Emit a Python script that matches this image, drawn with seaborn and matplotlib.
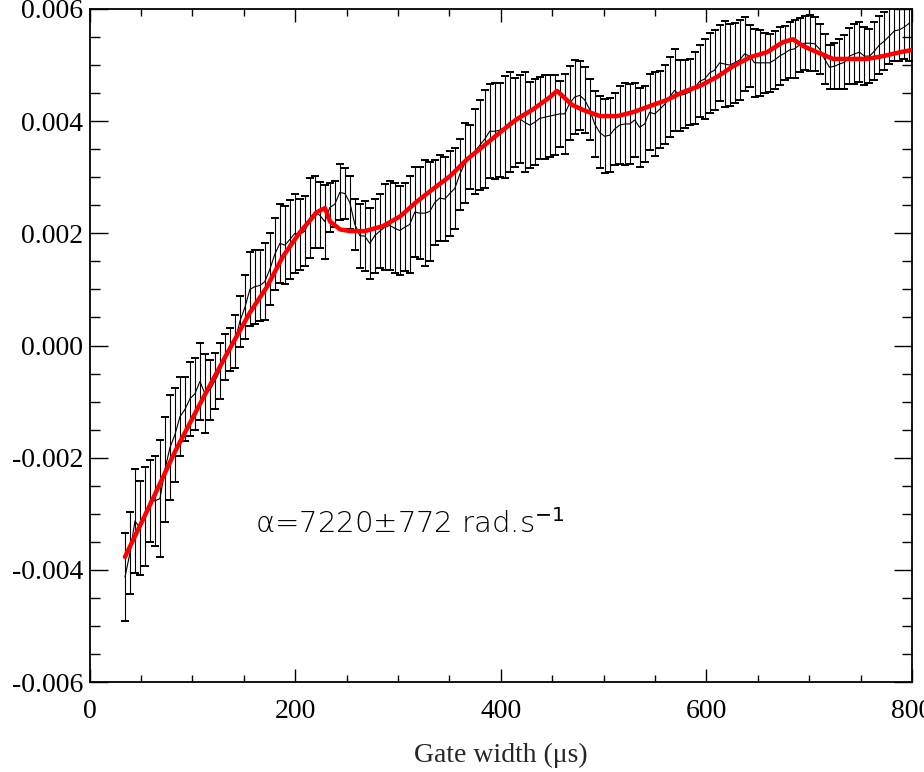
import numpy as np
import pandas as pd
import matplotlib
matplotlib.use("Agg")
import matplotlib.pyplot as plt
import seaborn as sns
from matplotlib.ticker import MultipleLocator

# ---------------- data ----------------
gate_start = 34.5      # first gate width (us)
gate_step = 4.86       # spacing between gate widths (us)

mean_y = [
    -0.00413, -0.00370, -0.00313, -0.00325, -0.00305, -0.00277, -0.00277, -0.00273, -0.00221, -0.00182,
    -0.00159, -0.00127, -0.00114, -0.00095, -0.00086, -0.00064, -0.00086, -0.00079, -0.00063, -0.00045,
    -0.00020, -0.00007, 0.00007, 0.00043, 0.00068, 0.00100, 0.00105, 0.00107, 0.00114, 0.00136,
    0.00163, 0.00182, 0.00179, 0.00189, 0.00200, 0.00198, 0.00204, 0.00227, 0.00238, 0.00232,
    0.00221, 0.00246, 0.00252, 0.00273, 0.00271, 0.00255, 0.00216, 0.00196, 0.00195, 0.00182,
    0.00196, 0.00204, 0.00211, 0.00214, 0.00209, 0.00205, 0.00211, 0.00216, 0.00238, 0.00236,
    0.00236, 0.00239, 0.00255, 0.00263, 0.00261, 0.00271, 0.00280, 0.00305, 0.00325, 0.00336,
    0.00346, 0.00357, 0.00368, 0.00382, 0.00382, 0.00384, 0.00389, 0.00398, 0.00398, 0.00404,
    0.00398, 0.00393, 0.00398, 0.00405, 0.00407, 0.00409, 0.00411, 0.00413, 0.00413, 0.00432,
    0.00443, 0.00446, 0.00438, 0.00421, 0.00395, 0.00380, 0.00373, 0.00375, 0.00386, 0.00393,
    0.00395, 0.00395, 0.00402, 0.00389, 0.00395, 0.00416, 0.00413, 0.00421, 0.00430, 0.00443,
    0.00455, 0.00446, 0.00448, 0.00452, 0.00459, 0.00471, 0.00475, 0.00486, 0.00491, 0.00504,
    0.00502, 0.00500, 0.00504, 0.00509, 0.00520, 0.00516, 0.00504, 0.00504, 0.00504, 0.00504,
    0.00509, 0.00516, 0.00521, 0.00527, 0.00529, 0.00536, 0.00539, 0.00539, 0.00538, 0.00529,
    0.00511, 0.00496, 0.00498, 0.00502, 0.00505, 0.00516, 0.00520, 0.00523, 0.00516, 0.00516,
    0.00525, 0.00536, 0.00543, 0.00552, 0.00561, 0.00563, 0.00568, 0.00575,
]

err_y = [
    0.00079, 0.00073, 0.00093, 0.00084, 0.00089, 0.00073, 0.00080, 0.00104, 0.00093, 0.00093,
    0.00084, 0.00070, 0.00057, 0.00066, 0.00064, 0.00068, 0.00070, 0.00054, 0.00050, 0.00050,
    0.00041, 0.00039, 0.00048, 0.00045, 0.00057, 0.00066, 0.00066, 0.00064, 0.00068, 0.00064,
    0.00064, 0.00071, 0.00070, 0.00070, 0.00071, 0.00063, 0.00063, 0.00071, 0.00064, 0.00059,
    0.00066, 0.00043, 0.00041, 0.00050, 0.00046, 0.00048, 0.00045, 0.00057, 0.00063, 0.00063,
    0.00066, 0.00066, 0.00077, 0.00079, 0.00080, 0.00079, 0.00079, 0.00086, 0.00080, 0.00082,
    0.00095, 0.00089, 0.00075, 0.00077, 0.00075, 0.00075, 0.00073, 0.00064, 0.00071, 0.00057,
    0.00075, 0.00080, 0.00088, 0.00084, 0.00086, 0.00084, 0.00091, 0.00089, 0.00079, 0.00079,
    0.00089, 0.00077, 0.00077, 0.00073, 0.00075, 0.00073, 0.00071, 0.00059, 0.00071, 0.00066,
    0.00066, 0.00061, 0.00059, 0.00054, 0.00059, 0.00064, 0.00066, 0.00066, 0.00064, 0.00070,
    0.00073, 0.00071, 0.00066, 0.00071, 0.00068, 0.00068, 0.00075, 0.00068, 0.00070, 0.00071,
    0.00073, 0.00063, 0.00061, 0.00059, 0.00064, 0.00064, 0.00071, 0.00071, 0.00071, 0.00068,
    0.00077, 0.00073, 0.00071, 0.00071, 0.00066, 0.00055, 0.00061, 0.00059, 0.00054, 0.00052,
    0.00052, 0.00052, 0.00048, 0.00050, 0.00052, 0.00048, 0.00048, 0.00050, 0.00048, 0.00045,
    0.00045, 0.00039, 0.00041, 0.00045, 0.00048, 0.00050, 0.00054, 0.00054, 0.00052, 0.00048,
    0.00052, 0.00052, 0.00052, 0.00050, 0.00054, 0.00055, 0.00057, 0.00068,
]

fit_x = [34.5, 58.9, 83.2, 107.5, 131.8, 156.1, 172.7, 188.2, 204.7, 221.3,
         229.1, 234.0, 243.7, 253.4, 268.0, 285.5, 302.0, 318.6, 334.1, 350.7,
         367.2, 382.8, 399.3, 415.9, 431.4, 447.9, 454.8, 469.4, 480.1, 496.6,
         513.1, 528.7, 545.2, 561.8, 577.3, 593.9, 610.4, 626.0, 642.5, 659.0,
         674.6, 684.3, 694.1, 707.7, 723.3, 739.8, 756.3, 771.9, 788.4, 800.0]
fit_y = [-0.00377, -0.00284, -0.00189, -0.00104, -0.00021, 0.00059, 0.00105, 0.00159, 0.00202, 0.00238,
         0.00245, 0.00221, 0.00207, 0.00204, 0.00204, 0.00213, 0.00230, 0.00257, 0.00279, 0.00302,
         0.00332, 0.00355, 0.00380, 0.00404, 0.00421, 0.00443, 0.00454, 0.00429, 0.00420, 0.00409,
         0.00409, 0.00416, 0.00427, 0.00438, 0.00452, 0.00463, 0.00479, 0.00498, 0.00514, 0.00523,
         0.00541, 0.00546, 0.00534, 0.00523, 0.00511, 0.00511, 0.00511, 0.00516, 0.00523, 0.00527]

x_ticks = [0, 200, 400, 600, 800]
x_tick_labels = ["0", "200", "400", "600", "800"]
y_ticks = [-0.006, -0.004, -0.002, 0.0, 0.002, 0.004, 0.006]
y_tick_labels = ["-0.006", "-0.004", "-0.002", "0.000", "0.002", "0.004", "0.006"]

annotation = "α=7220±772 rad.s$^{-1}$"
x_label = "Gate width (μs)"

# ---------------- figure ----------------
sns.set_style("ticks")
plt.rcParams["font.family"] = ["Liberation Serif", "DejaVu Serif"]
plt.rcParams["mathtext.fontset"] = "dejavusans"

gate_width = gate_start + gate_step * np.arange(len(mean_y))
df = pd.DataFrame({"gate": gate_width, "mean": mean_y, "err": err_y})
fit_df = pd.DataFrame({"gate": fit_x, "fit": fit_y})

W, H = 924, 772
fig = plt.figure(figsize=(W / 100, H / 100), dpi=100)
ax = fig.add_axes([89.5 / W, 90 / H, (912 - 89.5) / W, (682 - 9) / H])

ax.errorbar(df["gate"], df["mean"], yerr=df["err"], fmt="none",
            ecolor="black", elinewidth=0.8, capsize=3, capthick=1.4, zorder=2)
sns.lineplot(data=df, x="gate", y="mean", color="black", linewidth=0.8,
             ax=ax, zorder=3, estimator=None, sort=False)
sns.lineplot(data=fit_df, x="gate", y="fit", color="#ff0000", linewidth=3.2,
             ax=ax, zorder=4, estimator=None, sort=False)

ax.set_xlim(0, 800)
ax.set_ylim(-0.006, 0.006)
ax.set_xticks(x_ticks, x_tick_labels)
ax.set_yticks(y_ticks, y_tick_labels)
ax.xaxis.set_minor_locator(MultipleLocator(50))
ax.yaxis.set_minor_locator(MultipleLocator(0.0005))

for s in ax.spines.values():
    s.set_visible(True)
    s.set_linewidth(1.3)
    s.set_color("black")

ax.tick_params(axis="both", which="both", direction="in", top=True, right=True,
               colors="black", labelsize=20, width=1.0)
ax.tick_params(axis="x", which="major", length=9.5, pad=12)
ax.tick_params(axis="x", which="minor", length=5)
ax.tick_params(axis="y", which="major", length=13, pad=4.5)
ax.tick_params(axis="y", which="minor", length=7)

ax.set_xlabel(x_label, fontsize=20, labelpad=14)
ax.set_ylabel("")

ax.text(161, -0.00334, annotation, fontsize=21, family=["DejaVu Sans"],
        fontweight="light", va="baseline", ha="left", color="black")

fig.savefig("out.png", dpi=100)
